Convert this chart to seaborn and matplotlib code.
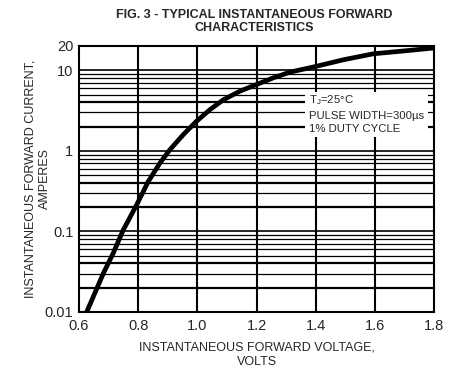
import matplotlib
matplotlib.use("Agg")
import matplotlib.pyplot as plt
from matplotlib.patches import Rectangle
import seaborn as sns
import pandas as pd

# Forward voltage (V) vs forward current (A)
voltage = [0.626, 0.682, 0.716, 0.750, 0.795, 0.834, 0.873, 0.907, 0.952, 0.995,
           1.043, 1.088, 1.144, 1.200, 1.257, 1.313, 1.398, 1.494, 1.595, 1.708, 1.800]
current = [0.010, 0.030, 0.054, 0.105, 0.214, 0.416, 0.700, 1.030, 1.580, 2.290,
           3.250, 4.300, 5.500, 6.650, 8.050, 9.470, 11.10, 13.50, 16.00, 17.50, 18.90]

x_ticks = [0.6, 0.8, 1.0, 1.2, 1.4, 1.6, 1.8]
x_tick_labels = ["0.6", "0.8", "1.0", "1.2", "1.4", "1.6", "1.8"]
y_ticks = [0.01, 0.1, 1, 10, 20]
y_tick_labels = ["0.01", "0.1", "1", "10", "20"]
note_lines = ["T$_\\mathregular{J}$=25\u00b0C", "PULSE WIDTH=300\u00b5s", "1% DUTY CYCLE"]

sns.set_style("white")
plt.rcParams["font.family"] = ["Liberation Sans", "DejaVu Sans"]

fig = plt.figure(figsize=(4.58, 3.70), dpi=100)
ax = fig.add_axes([0.1725, 0.1568, 0.7751, 0.7189])

df = pd.DataFrame({"V": voltage, "I": current})
ax.set_yscale("log")
ax.set_xlim(0.6, 1.8)
ax.set_ylim(0.01, 20)

# grid: decades and sub-decade lines
for dec in [0.01, 0.1, 1]:
    for m in range(2, 10):
        v = dec * m
        lw = 1.6 if m in (2, 4) else 0.9
        ax.axhline(v, color="black", lw=lw, zorder=1)
    ax.axhline(dec, color="black", lw=1.2, zorder=1)
ax.axhline(10, color="black", lw=1.2, zorder=1)
for xv in x_ticks[1:-1]:
    ax.axvline(xv, color="black", lw=1.5, zorder=1)

sns.lineplot(data=df, x="V", y="I", ax=ax, color="black", lw=3.4, zorder=3,
             solid_joinstyle="round", solid_capstyle="butt")

# test conditions, on a white panel over the grid
ax.add_patch(Rectangle((1.365, 1.5), 1.779 - 1.365, 5.4 - 1.5,
                       facecolor="white", edgecolor="none", zorder=2))
ax.text(1.378, 5.15, "\n".join(note_lines), fontsize=8.2, va="top", ha="left",
        linespacing=1.42, zorder=4)

ax.set_xticks(x_ticks)
ax.set_xticklabels(x_tick_labels)
ax.set_yticks(y_ticks)
ax.set_yticklabels(y_tick_labels)
ax.set_yticks([], minor=True)
ax.tick_params(axis="both", length=0, labelsize=10.5)
ax.tick_params(axis="x", pad=5)
ax.tick_params(axis="y", pad=4)
for s in ax.spines.values():
    s.set_visible(True)
    s.set_color("black")
    s.set_linewidth(1.5)

ax.set_xlabel("INSTANTANEOUS FORWARD VOLTAGE,\nVOLTS", fontsize=9, labelpad=6, linespacing=1.25)
ax.set_ylabel("INSTANTANEOUS FORWARD CURRENT,\nAMPERES", fontsize=9, linespacing=1.35)
ax.yaxis.set_label_coords(-0.078, 0.5)
fig.suptitle("FIG. 3 - TYPICAL INSTANTANEOUS FORWARD\nCHARACTERISTICS", x=0.555, y=0.975,
             fontsize=9.0, fontweight="bold", linespacing=1.05)

fig.savefig("out.png", dpi=100)
